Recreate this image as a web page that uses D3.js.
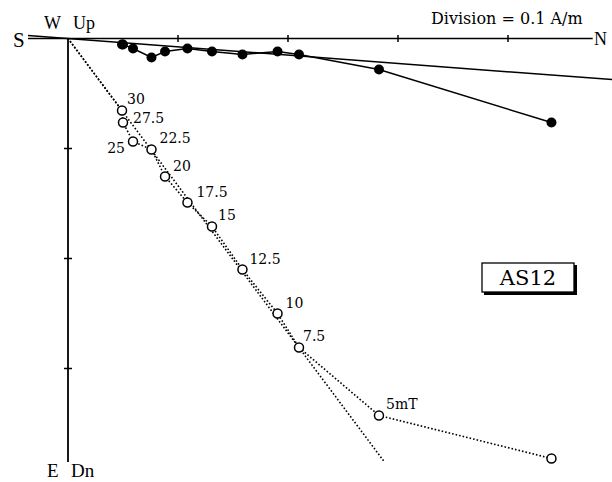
<!DOCTYPE html>
<html><head><meta charset="utf-8">
<script src="https://cdn.jsdelivr.net/npm/d3@7"></script>
<style>body{margin:0;background:#fff}svg{display:block}text{font-family:"Liberation Serif","Times New Roman",serif;fill:#000}.dv{font-family:"DejaVu Serif",serif}</style>
</head><body><svg id="c" width="612" height="482"></svg>
<script>
// AF demagnetisation steps (mT); first = NRM
const steps = ["NRM","5mT","7.5","10","12.5","15","17.5","20","22.5","25","27.5","30"];
// North component (A/m)
const northVals = [0.4395,0.2827,0.2100,0.1905,0.1586,0.1309,0.1086,0.0882,0.0759,0.0591,0.0500,0.0491];
// East component (A/m, positive = E, plotted downward)
const eastVals  = [0.0764,0.0282,0.0145,0.0118,0.0145,0.0118,0.0091,0.0118,0.0173,0.0091,0.0055,0.0055];
// Down component (A/m, positive = Dn)
const downVals  = [0.3818,0.3427,0.2809,0.2500,0.2100,0.1709,0.1491,0.1255,0.1009,0.0936,0.0764,0.0655];
// fitted principal-component lines (from origin)
const fitH = [[-0.0364,-0.00275],[0.495,0.0374]];
const fitV = [[0,0],[0.2873,0.3845]];
const axisTicks = [0.1,0.2,0.3,0.4];
const vTicks = [0.1,0.2,0.3];

const svg = d3.select("#c");
const x = d3.scaleLinear().domain([0,0.1]).range([68,178]);
const y = d3.scaleLinear().domain([0,0.1]).range([38.5,148.5]);

// axes
svg.append("line").attr("x1",x(-0.0364)).attr("x2",x(0.477)).attr("y1",y(0)).attr("y2",y(0)).attr("stroke","#000").attr("stroke-width",1.5);
svg.append("line").attr("x1",x(0)).attr("x2",x(0)).attr("y1",y(0)).attr("y2",y(0.385)).attr("stroke","#000").attr("stroke-width",1.8);
svg.selectAll(".ht").data(axisTicks).join("line").attr("x1",d=>x(d)).attr("x2",d=>x(d)).attr("y1",y(0)-3.5).attr("y2",y(0)+3.5).attr("stroke","#000").attr("stroke-width",1.5);
svg.selectAll(".vt").data(vTicks).join("line").attr("y1",d=>y(d)).attr("y2",d=>y(d)).attr("x1",x(0)-4).attr("x2",x(0)+4).attr("stroke","#000").attr("stroke-width",1.5);

const line = d3.line().x(d=>x(d[0])).y(d=>y(d[1]));
// fit lines
svg.append("path").attr("d",line(fitH)).attr("fill","none").attr("stroke","#000").attr("stroke-width",1.5);
svg.append("path").attr("d",line(fitV)).attr("fill","none").attr("stroke","#000").attr("stroke-width",1.6).attr("stroke-dasharray","1.6,2");

// horizontal projection (filled)
const hp = northVals.map((n,i)=>[n,eastVals[i]]);
svg.append("path").attr("d",line(hp)).attr("fill","none").attr("stroke","#000").attr("stroke-width",1.5);
svg.selectAll(".hp").data(hp).join("circle").attr("cx",d=>x(d[0])).attr("cy",d=>y(d[1])).attr("r",5).attr("fill","#000");

// vertical projection (open)
const vp = northVals.map((n,i)=>[n,downVals[i]]);
svg.append("path").attr("d",line(vp.concat([[0,0]]))).attr("fill","none").attr("stroke","#000").attr("stroke-width",1.6).attr("stroke-dasharray","1.6,2");
svg.selectAll(".vp").data(vp).join("circle").attr("cx",d=>x(d[0])).attr("cy",d=>y(d[1])).attr("r",4.5).attr("fill","#fff").attr("stroke","#000").attr("stroke-width",1.5);

// step labels (layout offsets)
const offs = {"5mT":[7,-6],"7.5":[4,-6],"10":[8,-6],"12.5":[7,-6],"15":[6,-6],"17.5":[9,-6],"20":[8,-6],"22.5":[8,-6],"25":[-8,12,"end"],"27.5":[10,0],"30":[5,-7]};
svg.selectAll(".lb").data(steps.map((s,i)=>({s,p:vp[i]})).filter(d=>offs[d.s])).join("text").attr("class","dv")
  .attr("x",d=>x(d.p[0])+offs[d.s][0]).attr("y",d=>y(d.p[1])+offs[d.s][1])
  .attr("text-anchor",d=>offs[d.s][2]||"start").attr("font-size",14).text(d=>d.s);

// axis labels
svg.append("text").attr("x",13).attr("y",47).attr("font-size",21).text("S");
svg.append("text").attr("x",44).attr("y",29).attr("font-size",18).text("W");
svg.append("text").attr("x",73).attr("y",29).attr("font-size",18).text("Up");
svg.append("text").attr("x",594).attr("y",45).attr("font-size",18).text("N");
svg.append("text").attr("x",47).attr("y",477).attr("font-size",19).text("E");
svg.append("text").attr("x",71).attr("y",477).attr("font-size",19).text("Dn");
svg.append("text").attr("class","dv").attr("x",431).attr("y",24).attr("font-size",16).text("Division = 0.1 A/m");

// sample box
svg.append("rect").attr("x",484).attr("y",265).attr("width",93).attr("height",30).attr("fill","#000");
svg.append("rect").attr("x",482).attr("y",263).attr("width",92).attr("height",29).attr("fill","#fff").attr("stroke","#000").attr("stroke-width",1.3);
svg.append("text").attr("class","dv").attr("x",528).attr("y",285).attr("text-anchor","middle").attr("font-size",21).text("AS12");
</script></body></html>
